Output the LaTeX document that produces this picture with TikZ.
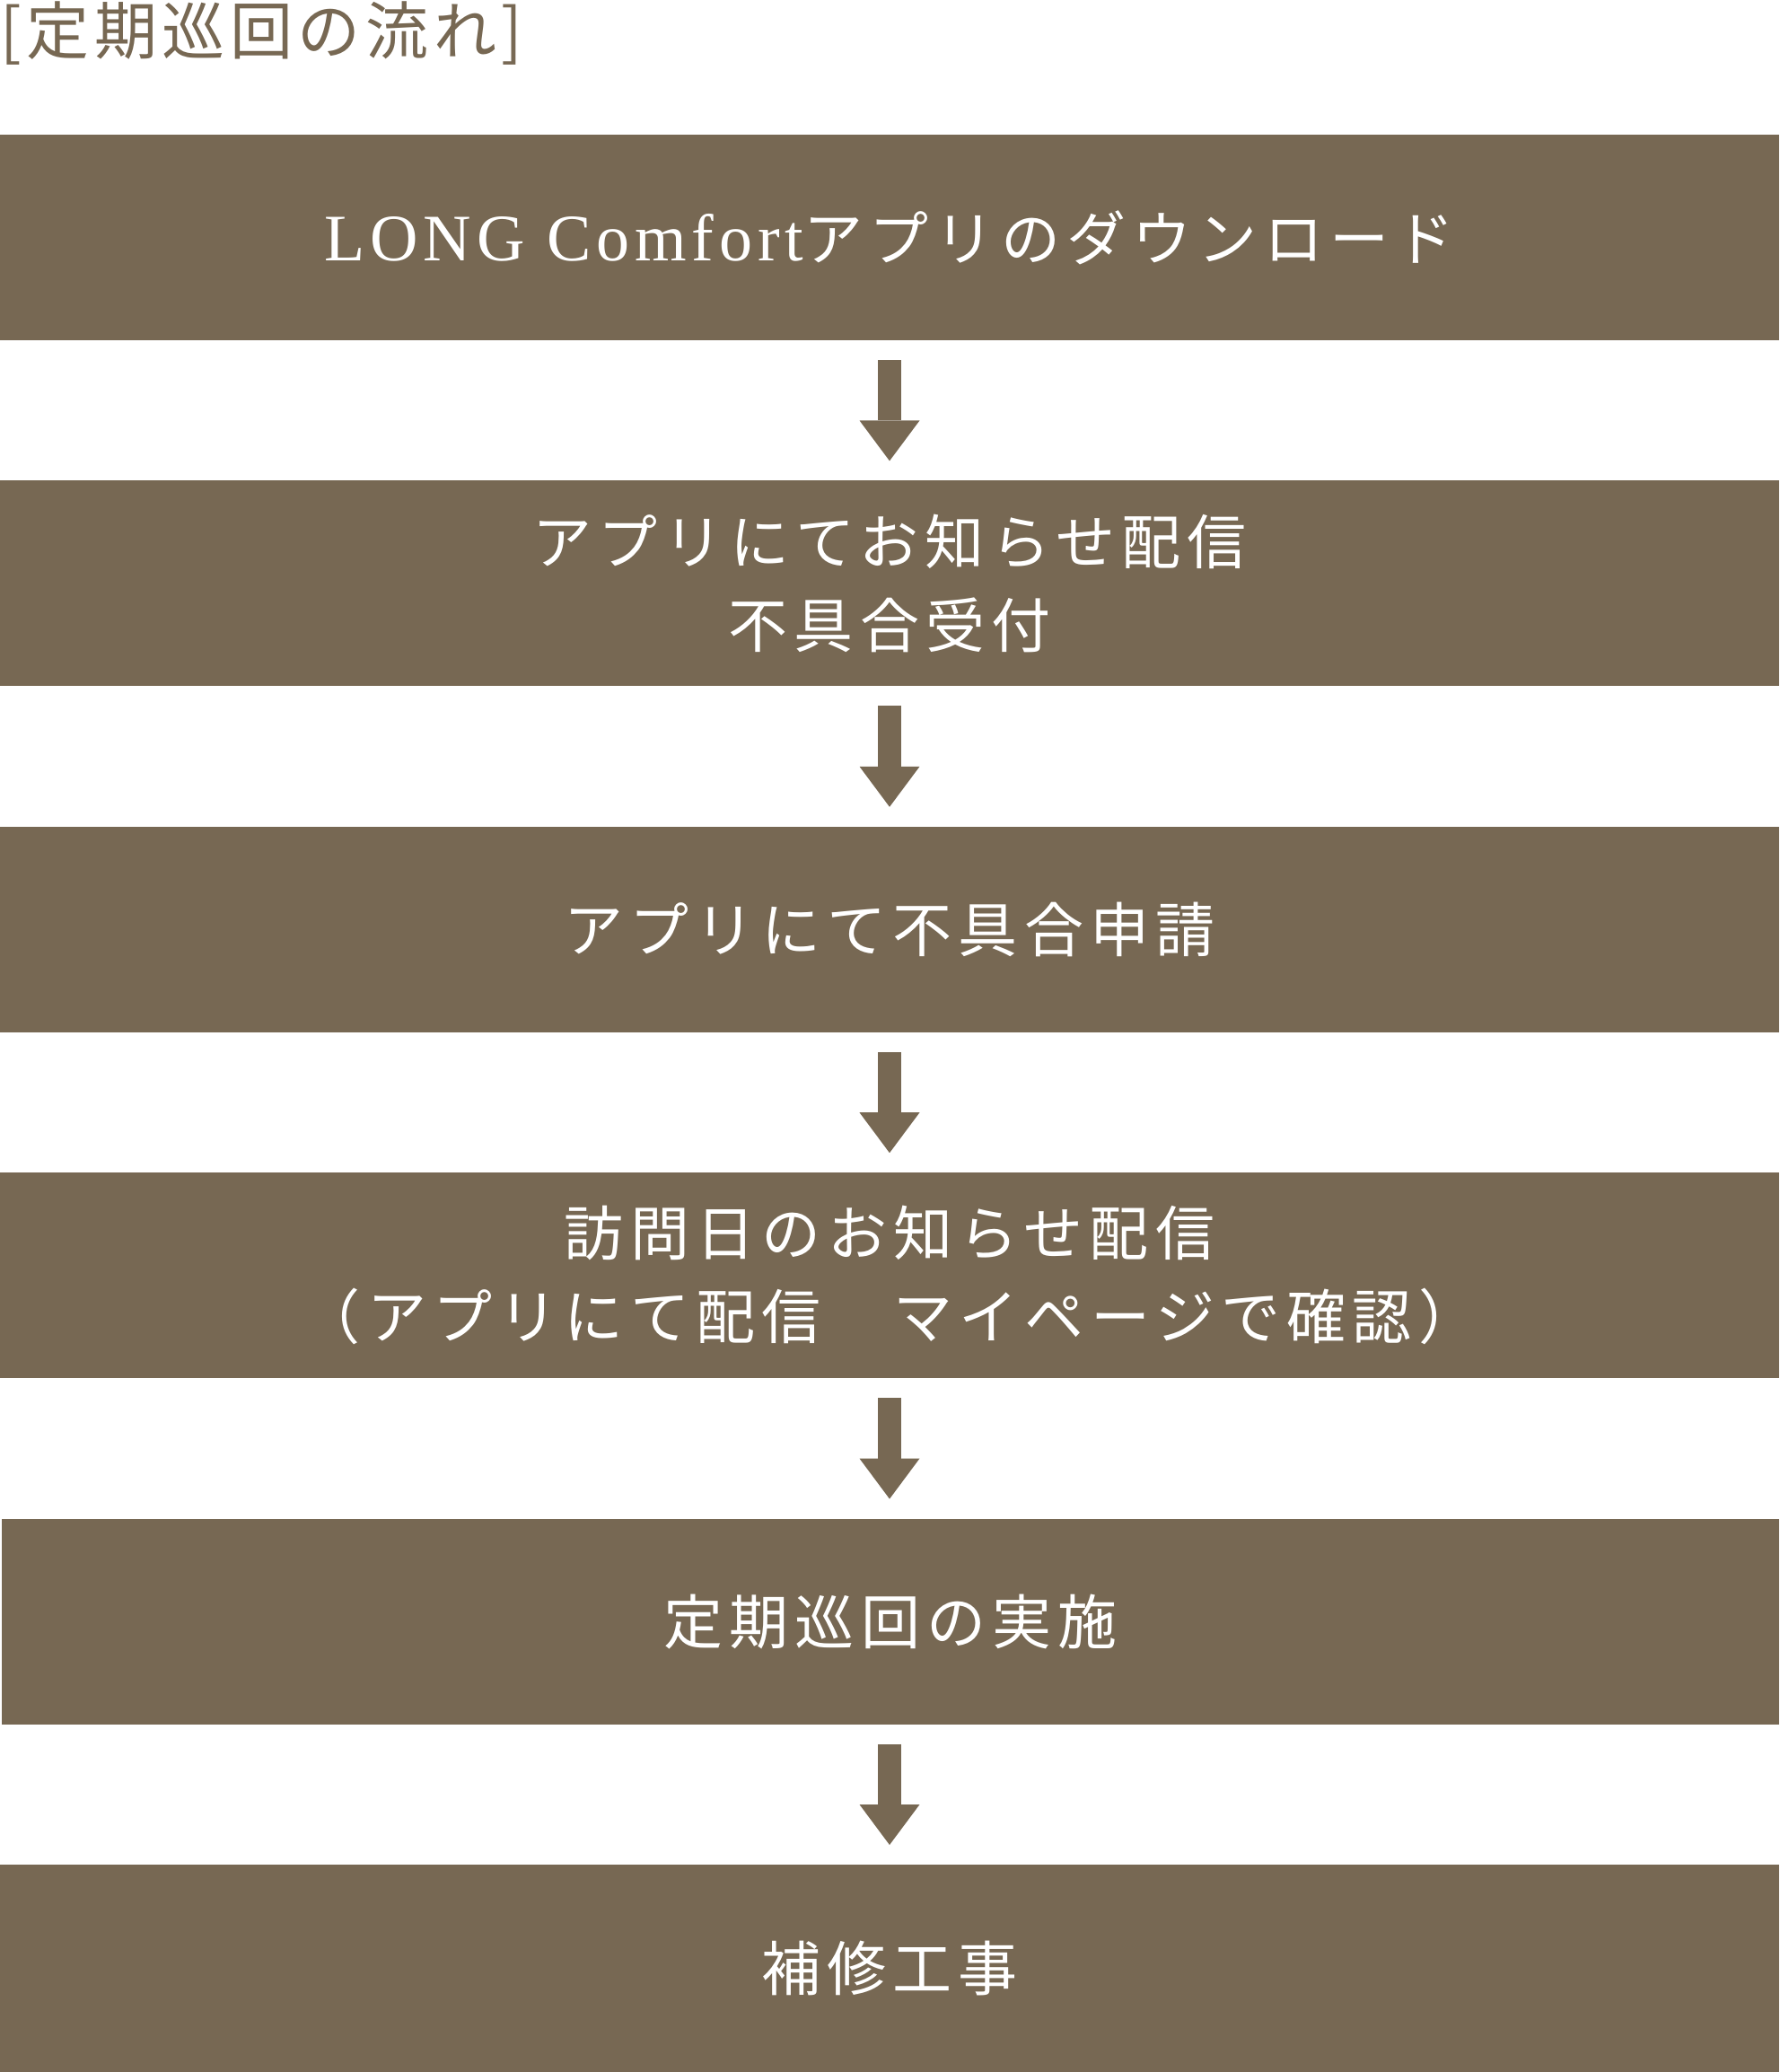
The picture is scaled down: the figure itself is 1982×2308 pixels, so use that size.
\documentclass[tikz,border=0pt]{standalone}
\usepackage{fontspec}
\setmainfont{Noto Sans CJK JP}
\newfontfamily\stepfont[LetterSpace=11]{Noto Sans CJK JP}
\newfontfamily\titlefont[LetterSpace=8]{Noto Sans CJK JP}
\newfontfamily\latinfont[LetterSpace=8]{Liberation Serif}
\usetikzlibrary{positioning,arrows.meta}
\definecolor{umber}{RGB}{119,104,83}
\tikzset{%
    flow box/.style={%
        fill=umber, text=white, inner sep=0pt, outer sep=0pt,
        minimum width=1982pt, minimum height=229pt, align=center,
        font=\stepfont\fontsize{66pt}{93pt}\selectfont
    },
    flow arrow/.style={%
        color=umber, line width=26pt, shorten <=22pt, shorten >=22pt,
        -{Triangle[width=67pt,length=45pt,line width=0pt]}
    }
}

\begin{document}
\begin{tikzpicture}[x=1pt,y=-1pt,node distance=156.4pt]
  \useasboundingbox (0,0) rectangle (1982,2308);

  \node[anchor=west,inner sep=0pt,text=umber,
    font=\titlefont\fontsize{70pt}{72pt}\selectfont] (title) at (0,37) {[定期巡回の流れ]};

  \node[flow box] (download) at (991,264.5)
    {{\latinfont\fontsize{74pt}{93pt}\selectfont LONG Comfort}アプリのダウンロード};
  \node[flow box] (notice) [below=of download] {アプリにてお知らせ配信\\不具合受付};
  \node[flow box] (apply) [below=of notice] {アプリにて不具合申請};
  \node[flow box] (visit) [below=of apply] {訪問日のお知らせ配信\\（アプリにて配信　マイページで確認）};
  \node[flow box,minimum width=1980pt,xshift=1pt] (patrol) [below=of visit] {定期巡回の実施};
  \node[flow box,minimum height=231pt,xshift=-1pt] (repair) [below=of patrol] {補修工事};

\path[flow arrow]
  (download.south) edge (notice.north)
  (notice.south) edge (apply.north)
  (apply.south) edge (visit.north)
  (visit.south) edge (visit.south |- patrol.north)
  (repair.north |- patrol.south) edge (repair.north);
\end{tikzpicture}
\end{document}
